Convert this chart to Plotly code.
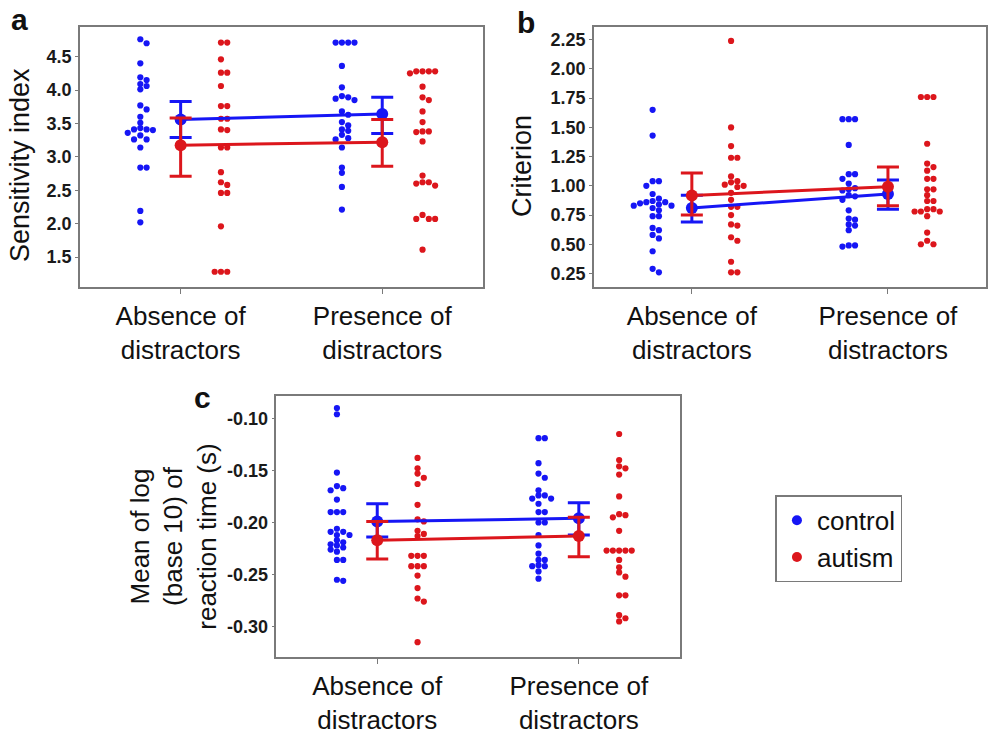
import numpy as np
import plotly.graph_objects as go

W, H = 988, 735

categories = ["Absence of<br>distractors", "Presence of<br>distractors"]
group_names = ["control", "autism"]

# ---------------- Panel a: Sensitivity index ----------------
sens_control_absence = [4.76, 4.70, 4.40, 4.19, 4.15, 4.09, 4.06, 4.01, 3.77, 3.71, 3.60, 3.51,
                        3.43, 3.41, 3.41, 3.40, 3.36, 3.32, 3.26, 3.26, 3.14, 2.84, 2.84, 2.19, 2.02]
sens_autism_absence = [4.71, 4.71, 4.46, 4.26, 4.26, 4.06, 3.76, 3.76, 3.57, 3.57, 3.41, 3.40,
                       3.14, 3.14, 2.77, 2.62, 2.58, 2.46, 2.46, 1.96, 1.28, 1.28, 1.28]
sens_control_presence = [4.71, 4.71, 4.71, 4.71, 4.36, 4.04, 3.91, 3.89, 3.87, 3.85, 3.68, 3.63,
                         3.52, 3.47, 3.41, 3.39, 3.33, 3.28, 3.26, 3.14, 2.84, 2.76, 2.55, 2.21]
sens_autism_presence = [4.28, 4.28, 4.28, 4.28, 4.25, 4.05, 3.89, 3.85, 3.68, 3.52, 3.38, 3.38,
                        3.37, 3.23, 2.72, 2.62, 2.62, 2.60, 2.57, 2.13, 2.07, 2.07, 2.07, 1.61]
sens_control_mean = [3.56, 3.64]
sens_control_low = [3.29, 3.35]
sens_control_high = [3.83, 3.89]
sens_autism_mean = [3.175, 3.22]
sens_autism_low = [2.71, 2.86]
sens_autism_high = [3.58, 3.56]
sens_ticks = [1.5, 2.0, 2.5, 3.0, 3.5, 4.0, 4.5]

# ---------------- Panel b: Criterion ----------------
crit_control_absence = [1.65, 1.43, 1.04, 1.04, 1.00, 0.93, 0.89, 0.87, 0.86, 0.86, 0.85, 0.84,
                        0.83, 0.83, 0.81, 0.79, 0.74, 0.74, 0.64, 0.62, 0.58, 0.55, 0.44, 0.29, 0.26]
crit_autism_absence = [2.24, 1.50, 1.34, 1.24, 1.24, 1.08, 1.04, 1.03, 1.01, 1.00, 0.99, 0.94,
                       0.88, 0.82, 0.82, 0.75, 0.67, 0.66, 0.56, 0.53, 0.35, 0.26, 0.26]
crit_control_presence = [1.57, 1.57, 1.57, 1.35, 1.10, 1.10, 1.06, 1.02, 0.98, 0.97, 0.96, 0.92,
                         0.91, 0.88, 0.79, 0.72, 0.71, 0.67, 0.66, 0.62, 0.49, 0.48, 0.49]
crit_autism_presence = [1.76, 1.76, 1.76, 1.36, 1.19, 1.16, 1.13, 1.06, 1.06, 0.97, 0.97, 0.92,
                        0.87, 0.87, 0.80, 0.80, 0.78, 0.78, 0.78, 0.74, 0.60, 0.53, 0.50, 0.50]
crit_control_mean = [0.81, 0.93]
crit_control_low = [0.69, 0.80]
crit_control_high = [0.92, 1.05]
crit_autism_mean = [0.917, 0.993]
crit_autism_low = [0.75, 0.83]
crit_autism_high = [1.11, 1.16]
crit_ticks = [0.25, 0.50, 0.75, 1.00, 1.25, 1.50, 1.75, 2.00, 2.25]

# ---------------- Panel c: Mean log10 reaction time ----------------
rt_control_absence = [-0.090, -0.096, -0.152, -0.165, -0.167, -0.169, -0.178, -0.190, -0.190,
                      -0.190, -0.206, -0.209, -0.209, -0.212, -0.212, -0.217, -0.219, -0.221,
                      -0.222, -0.224, -0.226, -0.228, -0.236, -0.236, -0.255, -0.256]
rt_autism_absence = [-0.138, -0.148, -0.153, -0.157, -0.163, -0.183, -0.197, -0.199, -0.208,
                     -0.211, -0.213, -0.232, -0.232, -0.232, -0.242, -0.242, -0.242, -0.251,
                     -0.263, -0.273, -0.276, -0.315]
rt_control_presence = [-0.119, -0.119, -0.143, -0.153, -0.157, -0.169, -0.174, -0.174, -0.177,
                       -0.177, -0.182, -0.190, -0.190, -0.200, -0.200, -0.212, -0.222, -0.230,
                       -0.236, -0.236, -0.241, -0.242, -0.242, -0.247, -0.254]
rt_autism_presence = [-0.115, -0.140, -0.146, -0.148, -0.154, -0.175, -0.192, -0.193, -0.195,
                      -0.208, -0.227, -0.227, -0.227, -0.227, -0.227, -0.236, -0.243, -0.248,
                      -0.252, -0.270, -0.270, -0.289, -0.292, -0.295]
rt_control_mean = [-0.199, -0.196]
rt_control_low = [-0.214, -0.212]
rt_control_high = [-0.182, -0.181]
rt_autism_mean = [-0.217, -0.213]
rt_autism_low = [-0.235, -0.233]
rt_autism_high = [-0.199, -0.195]
rt_ticks = [-0.30, -0.25, -0.20, -0.15, -0.10]

BLUE = "#1616f5"
RED = "#dc161c"
FRAME = "#7a7a7a"
FONT = "Liberation Sans, Arial, sans-serif"


def px_dom(x0, x1):
    return [x0 / W, x1 / W]


def py_dom(top, bottom):
    return [1 - bottom / H, 1 - top / H]


panels = [
    dict(xd=px_dom(80, 484), yd=py_dom(26.7, 288.7), yr=[1.05, 4.95], ticks=sens_ticks, fmt="{:.1f}",
         data=[[sens_control_absence, sens_control_presence], [sens_autism_absence, sens_autism_presence]],
         mean=[sens_control_mean, sens_autism_mean], low=[sens_control_low, sens_autism_low],
         high=[sens_control_high, sens_autism_high]),
    dict(xd=px_dom(595, 988), yd=py_dom(26.7, 288.7), yr=[0.133, 2.363], ticks=crit_ticks, fmt="{:.2f}",
         data=[[crit_control_absence, crit_control_presence], [crit_autism_absence, crit_autism_presence]],
         mean=[crit_control_mean, crit_autism_mean], low=[crit_control_low, crit_autism_low],
         high=[crit_control_high, crit_autism_high]),
    dict(xd=px_dom(277, 681), yd=py_dom(398.3, 661), yr=[-0.3296, -0.0786], ticks=rt_ticks, fmt="{:.2f}",
         data=[[rt_control_absence, rt_control_presence], [rt_autism_absence, rt_autism_presence]],
         mean=[rt_control_mean, rt_autism_mean], low=[rt_control_low, rt_autism_low],
         high=[rt_control_high, rt_autism_high]),
]

XR = [0.5, 2.5]
DIAM = 6.2
COLLIDE = 5.0
STEP = 6.3


def swarm(values, ppu_y, ppu_x):
    vals = np.asarray(values, dtype=float)
    order = np.argsort(-vals, kind="stable")
    placed = []
    offs = np.zeros(len(vals))
    for i in order:
        ypx = vals[i] * ppu_y
        for k in [0, 1, -1, 2, -2, 3, -3, 4, -4, 5, -5]:
            xpx = k * STEP
            if all((xpx - a) ** 2 + (ypx - b) ** 2 >= COLLIDE ** 2 for a, b in placed):
                break
        placed.append((xpx, ypx))
        offs[i] = xpx / ppu_x
    return offs


fig = go.Figure()
colors = [BLUE, RED]
sides = [-0.2, 0.2]

for pi, p in enumerate(panels):
    xa = "x" if pi == 0 else f"x{pi + 1}"
    ya = "y" if pi == 0 else f"y{pi + 1}"
    ppu_x = (p["xd"][1] - p["xd"][0]) * W / (XR[1] - XR[0])
    ppu_y = (p["yd"][1] - p["yd"][0]) * H / (p["yr"][1] - p["yr"][0])
    for g in range(2):
        xs, ys = [], []
        for c in range(2):
            vals = p["data"][g][c]
            offs = swarm(vals, ppu_y, ppu_x)
            xs.extend((c + 1 + sides[g] + offs).tolist())
            ys.extend(vals)
        fig.add_trace(go.Scatter(x=xs, y=ys, mode="markers", xaxis=xa, yaxis=ya,
                                 marker=dict(size=DIAM, color=colors[g]), showlegend=False,
                                 hoverinfo="skip"))
    for g in range(2):
        m = np.array(p["mean"][g])
        lo = np.array(p["low"][g])
        hi = np.array(p["high"][g])
        fig.add_trace(go.Scatter(x=[1, 2], y=m.tolist(), mode="lines+markers", xaxis=xa, yaxis=ya,
                                 line=dict(color=colors[g], width=3),
                                 marker=dict(size=12, color=colors[g]),
                                 error_y=dict(type="data", symmetric=False, array=(hi - m).tolist(),
                                              arrayminus=(m - lo).tolist(), color=colors[g],
                                              thickness=3, width=11),
                                 showlegend=False, hoverinfo="skip"))

    axis_common = dict(showline=True, mirror=True, linecolor=FRAME, linewidth=1.5,
                       showgrid=False, zeroline=False, ticks="outside", tickcolor=FRAME)
    fig.layout[("xaxis" if pi == 0 else f"xaxis{pi + 1}")] = dict(
        domain=p["xd"], range=XR, anchor=ya, tickmode="array", tickvals=[1, 2], ticktext=categories,
        ticklen=5, tickfont=dict(size=26, color="#111", family=FONT), **axis_common)
    fig.layout[("yaxis" if pi == 0 else f"yaxis{pi + 1}")] = dict(
        domain=p["yd"], range=p["yr"], anchor=xa, tickmode="array", tickvals=p["ticks"],
        ticktext=[p["fmt"].format(t) for t in p["ticks"]], ticklen=3,
        tickfont=dict(size=18, color="#1a1a1a", family=FONT, weight="bold"), **axis_common)

# legend entries
for g in range(2):
    fig.add_trace(go.Scatter(x=[None], y=[None], mode="markers", name=group_names[g],
                             marker=dict(size=10, color=colors[g]), showlegend=True))

ann = []
def add_text(text, x, y, size, bold=False, angle=0):
    ann.append(dict(text=f"<b>{text}</b>" if bold else text, x=x / W, y=1 - y / H, xref="paper",
                    yref="paper", showarrow=False, xanchor="center", yanchor="middle",
                    textangle=angle, font=dict(size=size, color="#111", family=FONT)))

add_text("a", 20, 20, 30, bold=True)
add_text("b", 527, 23, 30, bold=True)
add_text("c", 203, 400, 30, bold=True)
add_text("Sensitivity index", 20, 166, 27, angle=-90)
add_text("Criterion", 523, 167, 27, angle=-90)
add_text("Mean of log<br>(base 10) of<br>reaction time (s)", 174, 540, 26, angle=-90)

fig.update_layout(
    width=W, height=H, margin=dict(l=0, r=0, t=0, b=0),
    paper_bgcolor="white", plot_bgcolor="white",
    font=dict(family=FONT, color="#111"),
    annotations=ann,
    legend=dict(x=777 / W, y=1 - 498 / H, xanchor="left", yanchor="top",
                bordercolor=FRAME, borderwidth=1.5, bgcolor="white",
                font=dict(size=26, family=FONT, color="#111"), itemwidth=30,
                tracegroupgap=0),
)

fig.write_html("out.html")
